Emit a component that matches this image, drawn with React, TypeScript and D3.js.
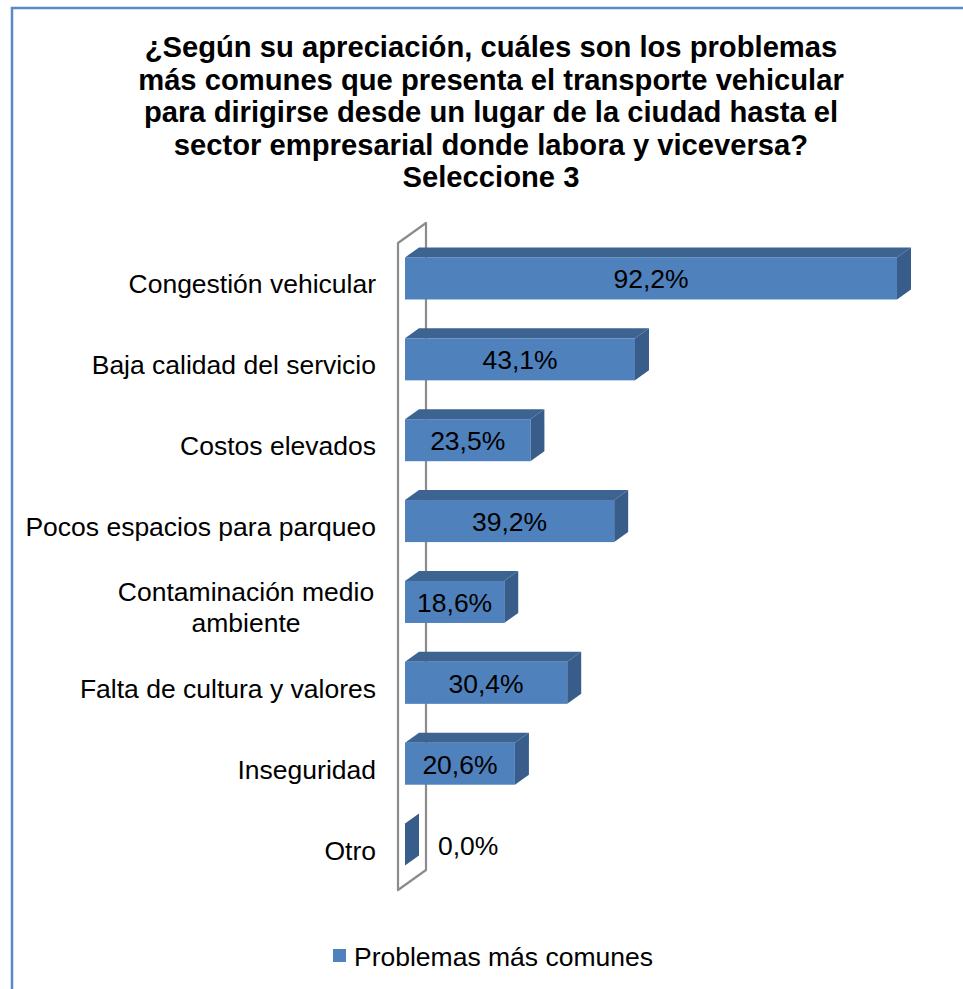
import { useEffect, useRef } from 'react'
import * as d3 from 'd3'

const categories = [
  'Congestión vehicular',
  'Baja calidad del servicio',
  'Costos elevados',
  'Pocos espacios para parqueo',
  'Contaminación medio\nambiente',
  'Falta de cultura y valores',
  'Inseguridad',
  'Otro',
]
const values = [92.2, 43.1, 23.5, 39.2, 18.6, 30.4, 20.6, 0.0]
const titleLines = [
  '¿Según su apreciación, cuáles son los problemas',
  'más comunes que presenta el transporte vehicular',
  'para dirigirse desde un lugar de la ciudad hasta el',
  'sector empresarial donde labora y viceversa?',
  'Seleccione 3',
]
const seriesName = 'Problemas más comunes'

const W = 963
const H = 989
const FONT = 'Arial, "Liberation Sans", sans-serif'
const FRONT = '#4f81bd'
const TOP = '#3d6391'
const SIDE = '#385d8a'

export default function App() {
  const svgRef = useRef<SVGSVGElement>(null)

  useEffect(() => {
    if (!svgRef.current) return
    const svg = d3.select(svgRef.current)
    svg.selectAll('*').remove()

    // outer frame (only left and top edges are inside the picture)
    svg.append('rect')
      .attr('x', 12).attr('y', 8)
      .attr('width', W + 20).attr('height', H + 20)
      .attr('fill', 'white')
      .attr('stroke', '#5a8ac6')
      .attr('stroke-width', 2.5)

    // title
    svg.append('g')
      .selectAll('text')
      .data(titleLines)
      .join('text')
      .attr('x', 491)
      .attr('y', (_, i) => 57 + i * 32.5)
      .attr('text-anchor', 'middle')
      .attr('font-family', FONT)
      .attr('font-size', 29.2)
      .attr('font-weight', 'bold')
      .attr('fill', '#000')
      .text(d => d)

    // 3D geometry: wall depth and bar depth offsets
    const depthX = 28
    const depthY = -20
    const barOffX = depthX * 0.25
    const barOffY = depthY * 0.25
    const barDX = depthX * 0.5
    const barDY = depthY * 0.5

    const x = d3.scaleLinear().domain([0, 100]).range([398, 931.6])
    const y = d3.scaleBand<string>()
      .domain(categories)
      .range([243, 890])
      .paddingInner(0.48)
      .paddingOuter(0.24)
    const x0 = x(0)

    // side wall
    const y0 = 243
    const y1 = 890
    svg.append('path')
      .attr('d', `M${x0},${y1} L${x0},${y0} L${x0 + depthX},${y0 + depthY} L${x0 + depthX},${y1 + depthY} Z`)
      .attr('fill', 'white')
      .attr('stroke', '#8c8c8c')
      .attr('stroke-width', 2.2)
      .attr('stroke-linejoin', 'round')

    const bars = svg.append('g')
      .selectAll('g')
      .data(categories.map((c, i) => ({ c, v: values[i] })))
      .join('g')

    bars.each(function (d) {
      const g = d3.select(this)
      const left = x0 + barOffX
      const right = x(d.v) + barOffX
      const top = (y(d.c) as number) + barOffY
      const bottom = top + y.bandwidth()

      // top face
      g.append('path')
        .attr('d', `M${left},${top} L${left + barDX},${top + barDY} L${right + barDX},${top + barDY} L${right},${top} Z`)
        .attr('fill', TOP)
      // side face
      g.append('path')
        .attr('d', `M${right},${top} L${right + barDX},${top + barDY} L${right + barDX},${bottom + barDY} L${right},${bottom} Z`)
        .attr('fill', SIDE)
      // front face
      if (right > left) {
        g.append('rect')
          .attr('x', left).attr('y', top)
          .attr('width', right - left).attr('height', bottom - top)
          .attr('fill', FRONT)
      }

      const cy = (top + bottom) / 2
      const label = d.v.toFixed(1).replace('.', ',') + '%'
      g.append('text')
        .attr('x', d.v > 0 ? (left + right) / 2 : right + barDX + 19)
        .attr('y', cy + 10)
        .attr('text-anchor', d.v > 0 ? 'middle' : 'start')
        .attr('font-family', FONT)
        .attr('font-size', 26.5)
        .attr('fill', '#000')
        .text(label)
    })

    // category labels
    const labels = svg.append('g')
      .selectAll('text')
      .data(categories)
      .join('text')
      .attr('font-family', FONT)
      .attr('font-size', 26.5)
      .attr('fill', '#000')

    labels.each(function (c) {
      const t = d3.select(this)
      const lines = c.split('\n')
      const cy = (y(c) as number) + y.bandwidth() / 2 + 10
      if (lines.length === 1) {
        t.attr('x', 376).attr('y', cy).attr('text-anchor', 'end').text(c)
      } else {
        t.attr('text-anchor', 'middle')
        lines.forEach((ln, i) => {
          t.append('tspan')
            .attr('x', 246)
            .attr('y', cy + (i - (lines.length - 1) / 2) * 31)
            .text(ln)
        })
      }
    })

    // legend
    const lg = svg.append('g')
    lg.append('rect')
      .attr('x', 333).attr('y', 949)
      .attr('width', 13).attr('height', 13)
      .attr('fill', FRONT)
    lg.append('text')
      .attr('x', 354).attr('y', 966)
      .attr('font-family', FONT)
      .attr('font-size', 26.5)
      .attr('fill', '#000')
      .text(seriesName)
  }, [])

  return (
    <svg
      ref={svgRef}
      width={W}
      height={H}
      style={{ position: 'absolute', left: 0, top: 0, background: 'white' }}
    />
  )
}
